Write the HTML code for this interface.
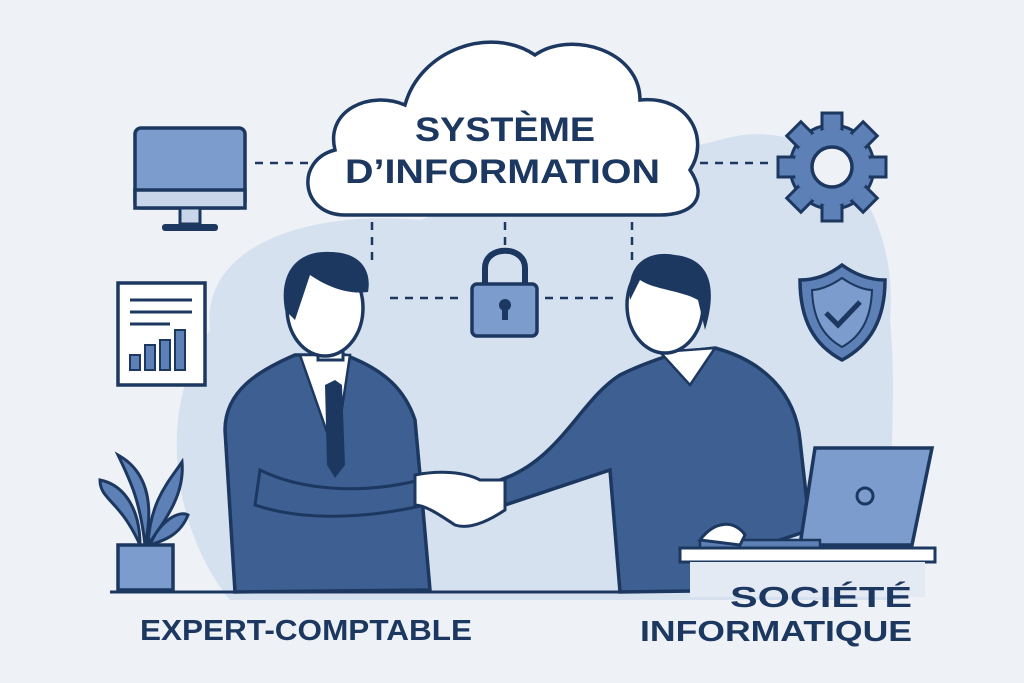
<!DOCTYPE html>
<html><head><meta charset="utf-8"><style>
html,body{margin:0;padding:0;background:#eef2f7;}
svg{display:block}
text{font-family:"Liberation Sans",sans-serif;font-weight:bold;fill:#1d3860}
</style></head><body>
<svg width="1024" height="683" viewBox="0 0 1024 683" xmlns="http://www.w3.org/2000/svg">
<rect width="1024" height="683" fill="#eef2f7"/>
<path d="M210,330 C200,240 320,210 420,220 C520,180 640,160 720,140 C820,110 900,200 890,320 C900,420 880,520 900,600 L230,600 C180,540 150,420 210,330 Z" fill="#d6e1ef"/>
<g stroke="#1d3860" stroke-width="2.5" stroke-dasharray="8,7" fill="none">
<line x1="255" y1="163" x2="310" y2="163"/>
<line x1="700" y1="163" x2="775" y2="163"/>
<line x1="372" y1="222" x2="372" y2="262"/>
<line x1="505" y1="222" x2="505" y2="250"/>
<line x1="632" y1="222" x2="632" y2="262"/>
<line x1="390" y1="298" x2="465" y2="298"/>
<line x1="545" y1="298" x2="615" y2="298"/>
</g>
<path d="M345,215 C300,215 295,160 335,150 C325,110 370,90 405,105 C420,50 490,25 535,55 C570,30 640,50 640,100 C690,95 710,140 690,170 C710,200 690,215 660,215 Z" fill="#fff" stroke="#1d3860" stroke-width="3.5"/>
<text x="415" y="141" font-size="34" textLength="180" lengthAdjust="spacingAndGlyphs">SYSTÈME</text>
<text x="345" y="183" font-size="34" textLength="315" lengthAdjust="spacingAndGlyphs">D’INFORMATION</text>
<rect x="135" y="128" width="110" height="80" rx="6" fill="#7b9ccc" stroke="#1d3860" stroke-width="3.5"/>
<rect x="135" y="190" width="110" height="18" fill="#c9d6ea" stroke="#1d3860" stroke-width="3.5"/>
<rect x="180" y="208" width="20" height="16" fill="#c9d6ea" stroke="#1d3860" stroke-width="3"/>
<rect x="162" y="224" width="56" height="7" rx="3" fill="#1d3860"/>
<g transform="translate(832,167)">
<circle r="42" fill="#5d80b6" stroke="#1d3860" stroke-width="3"/>
<g fill="#5d80b6" stroke="#1d3860" stroke-width="3">
<rect x="-10" y="-54" width="20" height="18"/><rect x="-10" y="36" width="20" height="18"/>
<rect x="-54" y="-10" width="18" height="20"/><rect x="36" y="-10" width="18" height="20"/>
<rect x="-10" y="-54" width="20" height="18" transform="rotate(45)"/><rect x="-10" y="36" width="20" height="18" transform="rotate(45)"/>
<rect x="-54" y="-10" width="18" height="20" transform="rotate(45)"/><rect x="36" y="-10" width="18" height="20" transform="rotate(45)"/>
</g>
<circle r="38" fill="#5d80b6"/>
<circle r="20" fill="#eef2f7" stroke="#1d3860" stroke-width="3.5"/>
</g>
<rect x="118" y="283" width="87" height="102" fill="#fff" stroke="#1d3860" stroke-width="3.5"/>
<g stroke="#1d3860" stroke-width="3"><line x1="130" y1="300" x2="192" y2="300"/><line x1="130" y1="312" x2="192" y2="312"/><line x1="130" y1="324" x2="170" y2="324"/></g>
<g fill="#5d80b6" stroke="#1d3860" stroke-width="2"><rect x="130" y="355" width="10" height="15"/><rect x="145" y="345" width="10" height="25"/><rect x="160" y="340" width="10" height="30"/><rect x="175" y="330" width="10" height="40"/></g>
<path d="M842,265 C860,278 875,280 885,280 C885,320 870,345 842,360 C814,345 800,320 800,280 C810,280 825,278 842,265 Z" fill="#5d80b6" stroke="#1d3860" stroke-width="3.5"/>
<path d="M842,278 C855,287 866,290 872,290 C871,320 860,337 842,347 C824,337 813,320 812,290 C818,290 829,287 842,278 Z" fill="#7b9ccc" stroke="#1d3860" stroke-width="2"/>
<polyline points="826,313 838,325 860,302" fill="none" stroke="#1d3860" stroke-width="5"/>
<path d="M485,285 L485,268 C485,245 525,245 525,268 L525,285" fill="none" stroke="#1d3860" stroke-width="6"/>
<rect x="472" y="284" width="65" height="52" rx="5" fill="#7b9ccc" stroke="#1d3860" stroke-width="3.5"/>
<circle cx="505" cy="305" r="6" fill="#1d3860"/><rect x="502" y="305" width="6" height="15" fill="#1d3860"/>
<g fill="#5d80b6" stroke="#1d3860" stroke-width="3">
<path d="M140,545 C120,500 100,500 100,480 C125,485 140,510 140,545Z"/>
<path d="M145,545 C140,500 130,480 118,455 C145,470 155,500 145,545Z"/>
<path d="M148,545 C150,500 170,480 182,462 C185,495 165,520 148,545Z"/>
<path d="M150,545 C160,520 180,510 188,515 C180,535 165,540 150,545Z"/>
</g>
<rect x="118" y="545" width="55" height="45" fill="#7b9ccc" stroke="#1d3860" stroke-width="3.5"/>
<line x1="110" y1="592" x2="640" y2="592" stroke="#1d3860" stroke-width="3"/>
<path d="M235,592 L225,430 C225,390 260,370 295,355 L345,355 C385,370 405,390 415,420 L420,475 L430,590 Z" fill="#3d5f91" stroke="#1d3860" stroke-width="3.5"/>
<path d="M300,355 L335,455 L350,355 Z" fill="#fff" stroke="#1d3860" stroke-width="2.5"/>
<path d="M325,385 L335,380 L342,385 L345,465 L335,478 L327,465 Z" fill="#1d3860"/>
<rect x="318" y="330" width="25" height="30" fill="#fff" stroke="#1d3860" stroke-width="3"/>
<ellipse cx="325" cy="308" rx="38" ry="48" fill="#fff" stroke="#1d3860" stroke-width="3.5"/>
<path d="M285,310 C278,270 300,250 330,252 C360,252 372,270 368,292 C345,295 325,285 310,275 C305,290 300,305 295,320 Z" fill="#1d3860"/>
<path d="M260,470 C300,490 360,495 420,480 L425,505 C360,520 300,520 255,505 Z" fill="#3d5f91" stroke="#1d3860" stroke-width="3"/>
<path d="M620,592 L610,470 L505,505 L500,480 C560,460 580,400 620,375 C640,365 660,358 680,352 L715,348 C760,360 795,390 800,440 L810,530 L780,540 L775,590 Z" fill="#3d5f91" stroke="#1d3860" stroke-width="3.5"/>
<path d="M660,352 L690,385 L715,348 Z" fill="#fff" stroke="#1d3860" stroke-width="2.5"/>
<ellipse cx="665" cy="305" rx="38" ry="48" fill="#fff" stroke="#1d3860" stroke-width="3.5"/>
<path d="M630,300 C625,262 650,250 675,255 C705,258 720,280 705,330 L698,300 C680,290 655,290 640,280 Z" fill="#1d3860"/>
<path d="M415,475 C440,470 465,472 480,480 L505,480 L505,510 C490,520 470,530 455,525 C440,515 425,505 415,505 Z" fill="#fff" stroke="#1d3860" stroke-width="3"/>
<path d="M815,448 L932,448 L912,545 L800,545 Z" fill="#7b9ccc" stroke="#1d3860" stroke-width="3.5"/>
<circle cx="865" cy="496" r="8" fill="none" stroke="#1d3860" stroke-width="3"/>
<rect x="700" y="540" width="120" height="8" fill="#5d80b6" stroke="#1d3860" stroke-width="2.5"/>
<rect x="680" y="548" width="255" height="14" fill="#fff" stroke="#1d3860" stroke-width="3"/>
<path d="M700,540 C715,520 735,520 745,535 L740,545 Z" fill="#fff" stroke="#1d3860" stroke-width="3"/>
<rect x="690" y="562" width="235" height="35" fill="#e4eaf3"/>
<text x="140" y="640" font-size="29" textLength="332" lengthAdjust="spacingAndGlyphs">EXPERT-COMPTABLE</text>
<text x="730" y="607" font-size="29" textLength="182" lengthAdjust="spacingAndGlyphs">SOCIÉTÉ</text>
<text x="640" y="641" font-size="29" textLength="272" lengthAdjust="spacingAndGlyphs">INFORMATIQUE</text>
</svg>
</body></html>
